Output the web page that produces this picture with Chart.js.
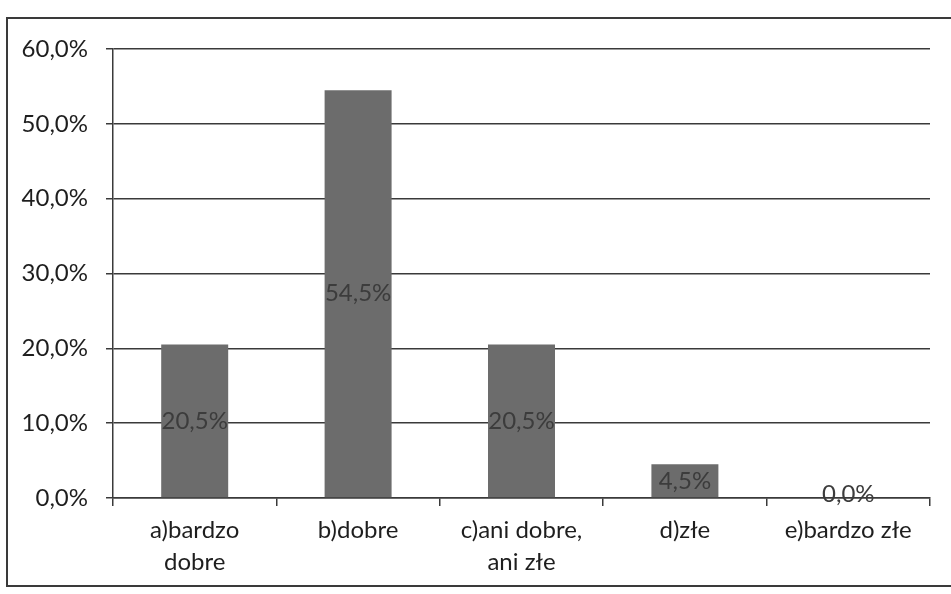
<!DOCTYPE html>
<html>
<head>
<meta charset="utf-8">
<script src="https://cdn.jsdelivr.net/npm/chart.js@4.4.1/dist/chart.umd.min.js"></script>
<style>
  html, body { margin: 0; padding: 0; background: #fff; overflow: hidden; }
  #wrap { position: relative; width: 951px; height: 594px; }
  #frame { position: absolute; left: 6px; top: 17px; width: 960px; height: 570px;
           border: 2px solid #3a3a3a; box-sizing: border-box; pointer-events: none; }
  canvas { position: absolute; left: 0; top: 0; }
</style>
</head>
<body>
<div id="wrap">
  <canvas id="mycanvas" width="951" height="594"></canvas>
  <div id="frame"></div>
</div>
<script>
var categories = [['a)bardzo', 'dobre'], 'b)dobre', ['c)ani dobre,', 'ani złe'], 'd)złe', 'e)bardzo złe'];
var shares = [20.5, 54.5, 20.5, 4.5, 0.0];
var yTicks = [0, 10, 20, 30, 40, 50, 60];

function pct(v) {
    return v.toFixed(1).replace('.', ',') + '%';
}

// draws the value in the middle of each bar, like the spreadsheet did
var barLabels = {
    id: 'barLabels',
    afterDatasetsDraw: function (chart) {
        var ctx = chart.ctx;
        var meta = chart.getDatasetMeta(0);
        ctx.save();
        ctx.font = '24px Lato';
        ctx.fillStyle = '#3c3c3c';
        ctx.textAlign = 'center';
        ctx.textBaseline = 'middle';
        meta.data.forEach(function (bar, i) {
            var mid = (bar.y + bar.base) / 2;
            if (shares[i] === 0) mid = bar.base - 4;
            ctx.fillText(pct(shares[i]), bar.x, mid);
        });
        ctx.restore();
    }
};

var ctx = document.getElementById('mycanvas').getContext('2d');
var myChart = new Chart(ctx, {
    type: 'bar',
    data: {
        labels: categories,
        datasets: [{
            label: 'Odpowiedzi',
            data: shares,
            backgroundColor: '#6c6c6c',
            borderWidth: 0,
            barPercentage: 0.82,
            categoryPercentage: 0.5
        }]
    },
    options: {
        responsive: false,
        animation: false,
        layout: { padding: { top: 49, right: 21, bottom: 0, left: 0 } },
        plugins: {
            legend: { display: false },
            tooltip: { enabled: false }
        },
        scales: {
            x: {
                grid: { drawOnChartArea: false, drawTicks: true, tickLength: 8, color: '#3a3a3a', lineWidth: 1.5 },
                border: { color: '#3a3a3a', width: 1.5 },
                ticks: { color: '#1e1e1e', font: { family: 'Lato', size: 24, lineHeight: 1.35 }, padding: 8, maxRotation: 0 },
                afterFit: function (scale) { scale.height = 96; }
            },
            y: {
                min: 0,
                max: 60,
                afterBuildTicks: function (scale) {
                    scale.ticks = yTicks.map(function (v) { return { value: v }; });
                },
                grid: { color: '#3a3a3a', lineWidth: 1.5, tickLength: 7 },
                border: { color: '#3a3a3a', width: 1.5 },
                ticks: {
                    color: '#1e1e1e',
                    font: { family: 'Lato', size: 24 },
                    padding: 18,
                    callback: function (v) { return pct(v); }
                },
                afterFit: function (scale) { scale.width = 113; }
            }
        }
    },
    plugins: [barLabels]
});
</script>
</body>
</html>
